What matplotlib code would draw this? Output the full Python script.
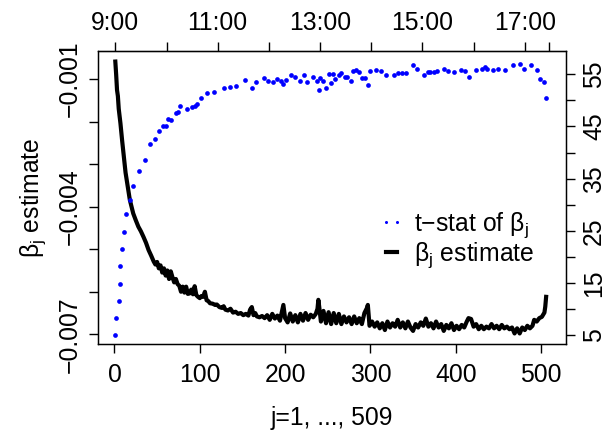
import matplotlib
matplotlib.use("Agg")
import matplotlib.pyplot as plt
from matplotlib.lines import Line2D

plt.rcParams["font.family"] = ["Liberation Sans", "DejaVu Sans"]
plt.rcParams["mathtext.fontset"] = "custom"
plt.rcParams["mathtext.rm"] = "Liberation Sans"
plt.rcParams["mathtext.it"] = "Liberation Sans"
FS = 17.8

# beta_j estimate (in units of 1e-3)
beta_j = [1, 2, 3, 4, 5, 7, 9, 11, 13, 15, 18, 22, 25, 28, 31, 34, 37, 40, 43, 46,
          48, 50, 52, 54, 56, 58, 60, 62, 64, 66, 68, 70, 72, 74, 76, 78, 80, 82, 84, 86,
          88, 90, 92, 94, 96, 98, 100, 102, 104, 106, 108, 110, 112, 115, 118, 120, 123, 126, 128, 130,
          133, 136, 139, 142, 145, 148, 151, 154, 157, 159, 161, 163, 165, 167, 170, 173,
          176, 179, 182, 185, 188, 191, 194, 197, 198, 200, 203, 206, 209, 212, 215, 218, 221, 224, 227, 230,
          233, 236, 238, 239, 240, 242, 245, 248, 251, 254, 257, 260, 263, 266, 269, 272, 275, 278, 281, 284,
          287, 290, 293, 296, 297, 299, 302, 305, 308, 311, 314, 317, 320, 323, 326, 329, 332, 335, 338, 341,
          344, 347, 350, 353, 356, 359, 362, 365, 368, 371, 374, 377, 380, 383, 386, 389, 392, 395, 398, 401,
          404, 407, 410, 413, 415, 418, 421, 424, 427, 430, 433, 436, 439, 442, 445, 448, 451, 454, 457, 460,
          463, 466, 469, 472, 475, 478, 481, 484, 487, 490, 492, 495, 498, 501, 504, 505, 506]
beta_val = [-0.59, -0.90, -1.26, -1.40, -1.70, -2.04, -2.45, -2.83, -3.20, -3.45, -3.84, -4.16, -4.32, -4.47, -4.58, -4.71, -4.85, -5.02, -5.15, -5.29,
            -5.36, -5.30, -5.45, -5.38, -5.55, -5.45, -5.62, -5.50, -5.70, -5.52, -5.66, -5.78, -5.70, -5.82, -5.86, -6.00, -5.88, -6.02, -5.88, -6.05,
            -6.04, -5.95, -6.06, -5.87, -6.08, -6.12, -6.15, -6.10, -6.12, -6.00, -6.20, -6.22, -6.27, -6.28, -6.31, -6.30, -6.36, -6.38, -6.34, -6.42,
            -6.44, -6.40, -6.49, -6.47, -6.52, -6.50, -6.55, -6.52, -6.56, -6.42, -6.36, -6.55, -6.50, -6.58, -6.60, -6.57,
            -6.62, -6.55, -6.66, -6.52, -6.63, -6.56, -6.68, -6.40, -6.31, -6.62, -6.72, -6.51, -6.70, -6.55, -6.72, -6.52, -6.68, -6.50, -6.66, -6.54,
            -6.60, -6.52, -6.40, -6.19, -6.35, -6.70, -6.45, -6.74, -6.48, -6.76, -6.50, -6.74, -6.52, -6.76, -6.58, -6.72, -6.60, -6.76, -6.58, -6.74,
            -6.62, -6.76, -6.50, -6.38, -6.31, -6.80, -6.70, -6.82, -6.72, -6.86, -6.74, -6.90, -6.70, -6.84, -6.74, -6.82, -6.66, -6.84, -6.72, -6.86,
            -6.70, -6.84, -6.92, -6.76, -6.84, -6.72, -6.80, -6.63, -6.82, -6.74, -6.86, -6.70, -6.84, -6.76, -6.92, -6.78, -6.86, -6.74, -6.90, -6.80,
            -6.88, -6.78, -6.84, -6.70, -6.62, -6.64, -6.82, -6.76, -6.88, -6.80, -6.88, -6.82, -6.86, -6.76, -6.86, -6.80, -6.88, -6.78, -6.86, -6.82,
            -6.88, -6.84, -6.98, -6.86, -6.98, -6.84, -6.90, -6.80, -6.86, -6.80, -6.66, -6.70, -6.62, -6.59, -6.49, -6.35, -6.12]

# t-stat of beta_j
t_j = [1, 2, 5, 6, 7, 9, 11, 14, 18, 22, 29, 36, 42, 47, 52, 57, 60, 63, 66, 72,
       74, 77, 85, 91, 94, 97, 102, 108, 117, 128, 136, 143, 153, 161, 166, 175, 180, 186, 191, 195,
       197, 201, 207, 212, 217, 222, 226, 233, 238, 240, 241, 244, 248, 252, 254, 256, 259, 263, 266, 270,
       273, 277, 280, 283, 287, 290, 294, 297, 300, 306, 313, 318, 328, 332, 337, 342, 350, 355, 363, 368,
       370, 374, 378, 386, 391, 398, 406, 411, 416, 424, 431, 434, 437, 444, 450, 458, 467, 475, 480, 488,
       495, 499, 504, 506]
t_val = [5.0, 8.4, 11.6, 14.9, 18.2, 21.5, 24.8, 28.2, 30.9, 33.6, 36.4, 38.6, 41.6, 42.6, 44.1, 45.0, 45.0, 46.4, 46.2, 47.5,
         47.8, 48.9, 48.4, 48.8, 48.9, 49.4, 50.5, 51.4, 51.6, 52.3, 52.5, 52.7, 54.0, 52.4, 53.5, 54.2, 53.8, 53.5, 54.1, 53.7,
         53.1, 53.9, 54.8, 54.5, 53.7, 54.9, 53.5, 54.4, 53.7, 51.9, 54.2, 53.7, 52.4, 55.0, 53.3, 55.1, 54.1, 54.9, 55.3, 54.5,
         54.5, 53.7, 55.6, 55.8, 55.4, 54.3, 54.3, 52.9, 55.7, 55.8, 55.6, 54.9, 54.8, 55.2, 55.3, 55.3, 56.7, 56.1, 54.8, 55.4,
         55.4, 55.5, 55.6, 56.1, 55.6, 55.4, 55.9, 55.6, 54.4, 55.8, 56.0, 56.3, 56.1, 55.9, 56.0, 55.8, 56.8, 56.9, 56.1, 56.8,
         55.8, 54.1, 53.6, 50.4]

bottom_ticks = [0, 100, 200, 300, 400, 500]
left_ticks = [-0.007, -0.006, -0.005, -0.004, -0.003, -0.002, -0.001]
left_labels = ["\u22120.007", "", "", "\u22120.004", "", "", "\u22120.001"]
right_ticks = [5, 10, 15, 20, 25, 30, 35, 40, 45, 50, 55]
right_labels = ["5", "", "15", "", "25", "", "35", "", "45", "", "55"]
top_ticks = [1, 61, 121, 181, 241, 301, 361, 421, 481, 509]
top_labels = ["9:00", "", "11:00", "", "13:00", "", "15:00", "", "17:00", ""]

fig = plt.figure(figsize=(6.07, 4.32), dpi=100)
ax = fig.add_axes([98 / 607, (432 - 344.3) / 432, 468 / 607, 293.3 / 432])
ax.plot(beta_j, [v * 1e-3 for v in beta_val], color="black", lw=3.0)
ax.set_xlim(-19.3, 529.3)
ax.set_ylim(-0.007235, -0.000342)
ax.set_xticks(bottom_ticks)
ax.set_yticks(left_ticks, labels=left_labels)
ax.tick_params(direction="out", length=6.5, width=1, labelsize=FS)
ax.tick_params(axis="x", pad=7)
ax.tick_params(axis="y", labelrotation=90, pad=5)
for lab in ax.get_yticklabels():
    lab.set_va("center")
ax.set_xlabel("j=1, ..., 509", fontsize=FS, labelpad=14)
ax.set_ylabel(r"$\mathrm{\beta_j}$ estimate", fontsize=FS, labelpad=7)

ax2 = ax.twinx()
ax2.plot(t_j, t_val, "o", color="blue", ms=3.4, mew=0)
ax2.set_ylim(3.28, 59.46)
ax2.set_yticks(right_ticks, labels=right_labels)
ax2.tick_params(direction="out", length=6.5, width=1, labelsize=FS, labelrotation=90, pad=5)
for lab in ax2.get_yticklabels():
    lab.set_va("center")

top = ax.secondary_xaxis("top")
top.set_xticks(top_ticks, labels=top_labels)
top.tick_params(direction="out", length=6.5, width=1, labelsize=FS, pad=5)

handles = [Line2D([], [], color="blue", ls="none", marker="o", ms=2.2, mew=0),
           Line2D([], [], color="black", lw=3.0)]
ax.legend(handles, ["t\u2212stat of $\\mathrm{\\beta_j}$", "$\\mathrm{\\beta_j}$ estimate"],
          loc="upper left", bbox_to_anchor=(0.573, 0.50), frameon=False, fontsize=FS,
          numpoints=2, handlelength=1.05, handletextpad=0.4, labelspacing=0.02, borderpad=0)

for s in ax.spines.values():
    s.set_linewidth(1)

fig.savefig("out.png", dpi=100)
